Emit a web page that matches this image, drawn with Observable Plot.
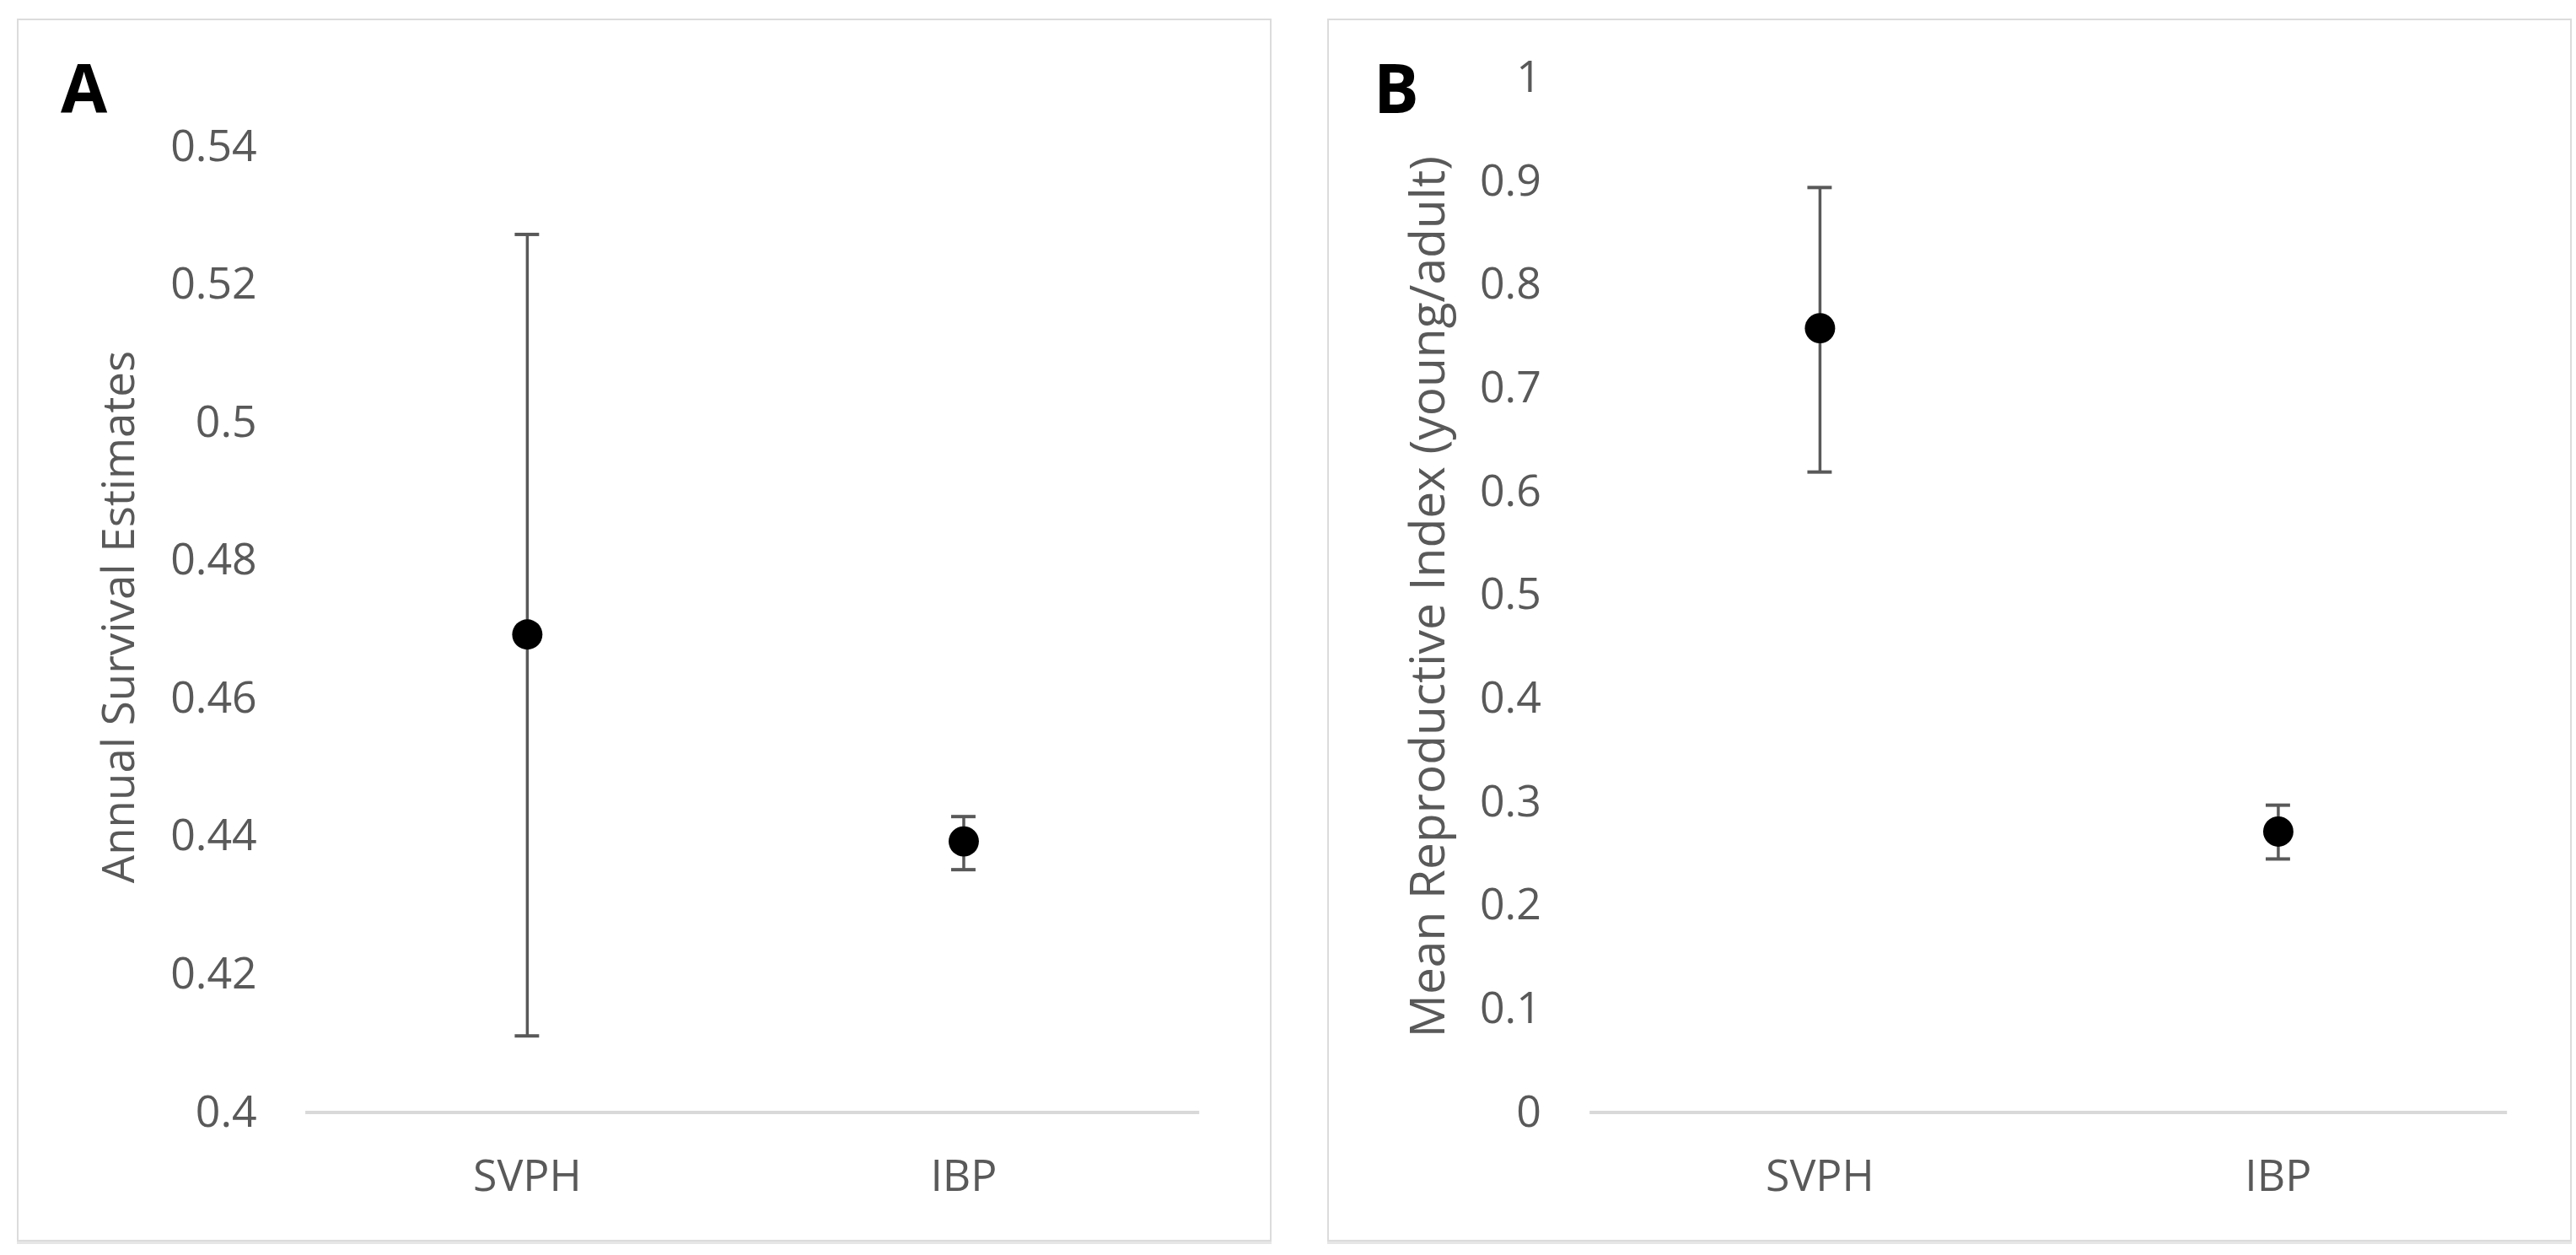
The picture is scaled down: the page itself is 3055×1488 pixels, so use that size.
<!DOCTYPE html>
<html><head><meta charset="utf-8">
<script src="https://cdn.jsdelivr.net/npm/d3@7"></script>
<script src="https://cdn.jsdelivr.net/npm/@observablehq/plot@0.6"></script>
<style>
html,body{margin:0;padding:0;background:#fff;}
#page{position:relative;width:3055px;height:1488px;overflow:hidden;font-family:"Open Sans",sans-serif;background:#fff;}
.panel{position:absolute;top:22px;height:1450px;box-sizing:border-box;border:2px solid #dcdcdc;box-shadow:0 3px 0 #e6e6e6;background:#fff;}
.panel svg{position:absolute;left:-2px;top:-2px;}
.letter{position:absolute;font-weight:bold;font-size:80px;color:#000;line-height:1;font-family:"Open Sans",sans-serif;}
</style></head>
<body><div id="page">
<div class="panel" id="pa" style="left:20px;width:1488px"></div>
<div class="panel" id="pb" style="left:1574px;width:1476px"></div>
</div>
<script>
// ---- data ----
const categories = ["SVPH", "IBP"];
const survivalMean = [0.4693, 0.4393];
const survivalLow  = [0.4111, 0.4352];
const survivalHigh = [0.5273, 0.4429];
const reproMean = [0.758, 0.2715];
const reproLow  = [0.619, 0.245];
const reproHigh = [0.894, 0.297];
const ticksA = [0.4, 0.42, 0.44, 0.46, 0.48, 0.5, 0.52, 0.54];
const ticksB = [0, 0.1, 0.2, 0.3, 0.4, 0.5, 0.6, 0.7, 0.8, 0.9, 1];
const titleA = "Annual Survival Estimates";
const titleB = "Mean Reproductive Index (young/adult)";
const panelLetters = ["A", "B"];

const rowsA = categories.map((c, i) => ({cat: c, mean: survivalMean[i], lo: survivalLow[i], hi: survivalHigh[i]}));
const rowsB = categories.map((c, i) => ({cat: c, mean: reproMean[i], lo: reproLow[i], hi: reproHigh[i]}));

const grey = "#595959";
function panel(rows, o) {
  const step = o.c2 - o.c1, bw = 29;
  return Plot.plot({
    width: o.width, height: 1450,
    marginLeft: o.ml, marginRight: o.mr, marginTop: o.mt, marginBottom: 150,
    style: {fontFamily: "Open Sans, sans-serif", fontSize: "52px", color: grey, background: "transparent", overflow: "visible"},
    x: {type: "band", domain: categories, range: [o.c1 - bw / 2, o.c2 + bw / 2], paddingInner: 1 - bw / step, paddingOuter: 0},
    y: {domain: o.domain},
    marks: [
      Plot.ruleY([o.domain[0]], {stroke: "#d9d9d9", strokeWidth: 4}),
      Plot.axisY({ticks: o.ticks, tickSize: 0, tickPadding: 58, tickFormat: d => String(d), fill: grey, label: null}),
      Plot.axisX({tickSize: 0, tickPadding: 56, fill: grey, label: null}),
      Plot.ruleX(rows, {x: "cat", y1: "lo", y2: "hi", stroke: grey, strokeWidth: 3.5}),
      Plot.tickY(rows, {x: "cat", y: "lo", stroke: grey, strokeWidth: 4}),
      Plot.tickY(rows, {x: "cat", y: "hi", stroke: grey, strokeWidth: 4}),
      Plot.dot(rows, {x: "cat", y: "mean", r: 18, fill: "#000", stroke: "none"}),
      Plot.text([o.title], {frameAnchor: "left", rotate: -90, textAnchor: "middle", dx: o.tdx, dy: o.tdy, fontSize: o.tfs, fill: grey})
    ]
  });
}

const svgA = panel(rowsA, {width: 1488, ml: 343, mr: 82, mt: 152, c1: 606, c2: 1125, domain: [0.4, 0.54], ticks: ticksA, title: titleA, tdx: -221, tdy: -15, tfs: 53});
document.getElementById("pa").appendChild(svgA);
const svgB = panel(rowsB, {width: 1476, ml: 312, mr: 73, mt: 70, c1: 585, c2: 1130, domain: [0, 1], ticks: ticksB, title: titleB, tdx: -191, tdy: 2, tfs: 57});
document.getElementById("pb").appendChild(svgB);

const page = document.getElementById("page");
const letterPos = [[72, 63], [1629, 63]];
panelLetters.forEach((t, i) => {
  const d = document.createElement("div");
  d.className = "letter";
  d.textContent = t;
  d.style.left = letterPos[i][0] + "px";
  d.style.top = letterPos[i][1] + "px";
  page.appendChild(d);
});
</script>
</body></html>
